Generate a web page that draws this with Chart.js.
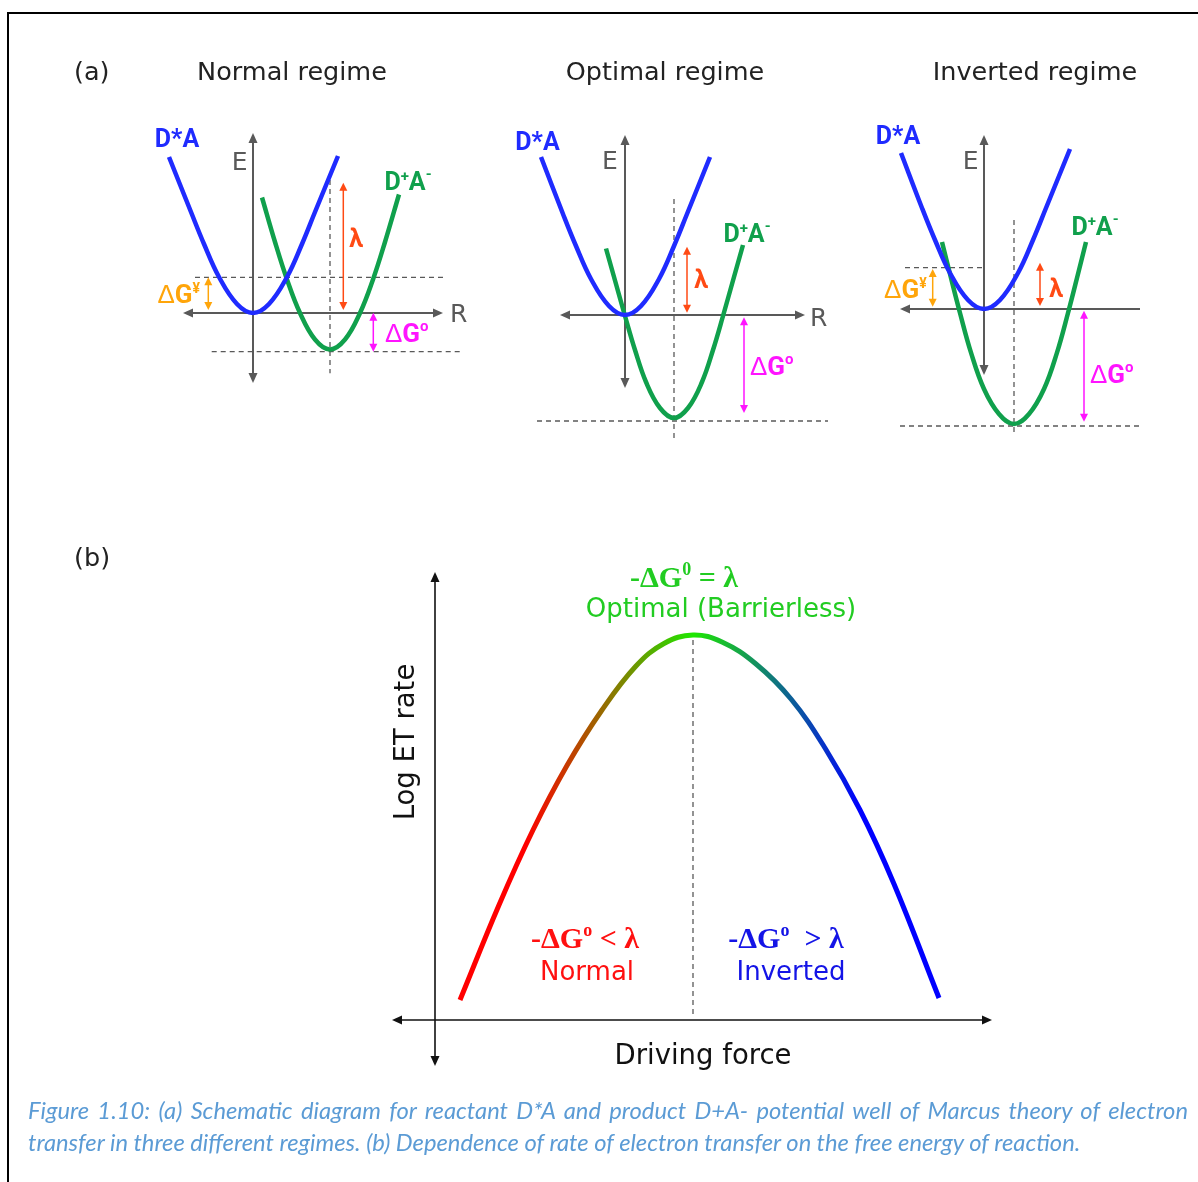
<!DOCTYPE html>
<html>
<head>
<meta charset="utf-8">
<title>Marcus theory of electron transfer</title>
<script src="https://cdn.jsdelivr.net/npm/chart.js@4/dist/chart.umd.min.js"></script>
<style>
  html, body { margin: 0; padding: 0; background: #fff; width: 1198px; height: 1182px; overflow: hidden; }
  #wrap { position: relative; width: 1198px; height: 1182px; }
  #frame { position: absolute; left: 7px; top: 12px; width: 1200px; height: 1180px;
           border-top: 2.5px solid #000; border-left: 2.5px solid #000; }
  #plot { position: absolute; left: 0; top: 0; width: 1198px; height: 1182px; }
  #caption { position: absolute; left: 28px; top: 1094px; width: 1160px; color: #5b9bd5;
             font-family: Lato, "Liberation Sans", sans-serif; font-style: italic; font-size: 20px; line-height: 32px; }
  #caption .first { text-align: justify; text-align-last: justify; }
</style>
</head>
<body>
<div id="wrap">
  <div id="frame"></div>
  <canvas id="plot" width="1198" height="1182"></canvas>
  <div id="caption">
    <div class="first" id="cap1"></div>
    <div id="cap2"></div>
  </div>
</div>
<script>
// ---------------------------------------------------------------
// Potential wells: reaction coordinate R against energy E
// (reactant D*A and product D+A- in each regime)
// ---------------------------------------------------------------
const normalReactantR  = [-8.4, -6.2, -4.9, -3.4, -1.6, 0, 1.6, 3.4, 4.9, 6.2, 8.5];
const normalReactantE  = [15.6, 10.1, 6.9, 3.6, 0.9, 0, 0.9, 3.6, 6.9, 10.1, 15.7];
const normalProductR   = [0.9, 2.2, 3.4, 4.7, 6.2, 7.7, 9.2, 10.7, 12.0, 13.2, 14.6];
const normalProductE   = [11.55, 7.1, 3.35, 0, -2.65, -3.65, -2.65, 0, 3.35, 7.1, 11.85];

const optimalReactantR = [-8.4, -6.2, -4.9, -3.4, -1.6, 0, 1.6, 3.4, 4.9, 6.2, 8.5];
const optimalReactantE = [15.8, 10.1, 6.9, 3.6, 0.9, 0, 0.9, 3.6, 6.9, 10.1, 15.8];
const optimalProductR  = [-1.9, -0.9, 0, 1.0, 2.1, 3.5, 4.9, 6.3, 7.7, 8.8, 9.8, 10.8, 11.8];
const optimalProductE  = [6.65, 3.1, -0.1, -3.5, -6.7, -9.3, -10.3, -9.3, -6.7, -3.5, -0.1, 3.45, 7.0];

const invertedReactantR = [-8.3, -6.2, -4.9, -3.4, -1.6, 0, 1.6, 3.4, 4.9, 6.2, 8.6];
const invertedReactantE = [15.6, 10.1, 6.9, 3.6, 0.9, 0, 0.9, 3.6, 6.9, 10.1, 16.0];
const invertedProductR  = [-4.2, -3.4, -2.4, -1.3, 0, 1.5, 3.0, 4.5, 6.0, 7.3, 8.4, 9.4, 10.2];
const invertedProductE  = [6.7, 3.5, -0.4, -4.36, -8.0, -10.5, -11.5, -10.5, -8.0, -4.36, -0.4, 3.5, 6.7];

// ---------------------------------------------------------------
// Rate of electron transfer against driving force (-dG0)
// ---------------------------------------------------------------
const drivingForce = [2.5, 6.4, 9.8, 13.2, 16.7, 20.1, 22.9, 25.8, 28.7, 32.1, 35.6, 39.0, 42.5, 45.9, 50.4];
const logRate      = [2.0, 11.5, 19.0, 25.45, 31.0, 35.4, 37.65, 38.5, 37.8, 35.6, 32.1, 27.2, 21.0, 13.6, 2.2];

// Text
const regimeTitles = ['Normal regime', 'Optimal regime', 'Inverted regime'];
const captionLines = [
  'Figure 1.10: (a) Schematic diagram for reactant D*A and product D+A- potential well of Marcus theory of electron',
  'transfer in three different regimes. (b) Dependence of rate of electron transfer on the free energy of reaction.'
];

// ---------------------------------------------------------------
// Layout and styles
// ---------------------------------------------------------------
const W = 1198, H = 1182;
// pixel position of each panel's origin, and pixels per unit
const frames = {
  N: { ox: 253, oy: 313, u: 10 },
  O: { ox: 625, oy: 315, u: 10 },
  I: { ox: 984, oy: 309, u: 10 },
  B: { ox: 435, oy: 1020, u: 10 }
};

const REACTANT = '#1f2bff', PRODUCT = '#10a04c', AXIS = '#595959';
const LAMBDA = '#ff4a14', BARRIER = '#ffa50a', DRIVE = '#ff14ff';
const RATE_RED = 'rgb(255,0,0)', RATE_GREEN = 'rgb(30,232,0)', RATE_BLUE = 'rgb(0,0,255)';

// guide lines, arrows and labels of each well panel, in panel units
const wellGuides = {
  N: {
    eAxis: [-7.0, 18.0], rAxis: [-7.0, 19.0], rArrowRight: true,
    eLabel: [-1.33, 14.3], rLabel: [19.7, -0.87],
    hDash: [[3.57, -5.8, 19.0], [-3.87, -4.13, 20.7]],
    vDash: [7.7, 13.3, -6.03],
    lambda: { r: 9.03, e: [13.03, 0.3], label: [10.3, 6.6] },
    barrier: { r: -4.47, e: [3.57, 0.3], label: [-5.3, 1.0] },
    drive: { r: 12.03, e: [0.03, -3.87], label: [13.2, -2.87] },
    reactantLabel: [-7.6, 16.65], productLabel: [15.5, 12.3]
  },
  O: {
    eAxis: [-7.3, 18.0], rAxis: [-6.5, 18.0], rArrowRight: true,
    eLabel: [-1.5, 14.6], rLabel: [18.5, -1.1],
    hDash: [[-10.6, -8.8, 20.3]],
    vDash: [4.9, 11.6, -12.5],
    lambda: { r: 6.2, e: [6.83, 0.23], label: [7.6, 2.7] },
    barrier: null,
    drive: { r: 11.9, e: [-0.23, -9.8], label: [12.5, -6.0] },
    reactantLabel: [-8.75, 16.5], productLabel: [12.2, 7.33]
  },
  I: {
    eAxis: [-6.6, 17.4], rAxis: [-8.4, 15.6], rArrowRight: false,
    eLabel: [-1.33, 13.97], rLabel: null,
    hDash: [[4.13, -7.9, 0], [-11.7, -8.4, 15.6]],
    vDash: [3.0, 8.9, -12.6],
    lambda: { r: 5.6, e: [4.63, 0.3], label: [7.2, 1.23] },
    barrier: { r: -5.13, e: [4.0, 0.23], label: [-5.73, 1.1] },
    drive: { r: 10.0, e: [-0.17, -11.27], label: [10.6, -7.4] },
    reactantLabel: [-8.6, 16.5], productLabel: [11.1, 7.4]
  }
};
const titleCenters = [292, 665, 1035];

function scalesFor(key) {
  const f = frames[key];
  const common = { type: 'linear', display: false, grace: 0, bounds: 'data' };
  return {
    ['x' + key]: Object.assign({ axis: 'x', min: -f.ox / f.u, max: (W - f.ox) / f.u }, common),
    ['y' + key]: Object.assign({ axis: 'y', min: -(H - f.oy) / f.u, max: f.oy / f.u }, common)
  };
}

function well(label, rs, es, color, key) {
  return {
    label,
    data: rs.map((r, i) => ({ x: r, y: es[i] })),
    xAxisID: 'x' + key, yAxisID: 'y' + key,
    borderColor: color, borderWidth: 4.5,
    pointRadius: 0, showLine: true, fill: false,
    tension: 0.4
  };
}

// horizontal colour ramp red -> green (at the maximum) -> blue
function rateGradient(context) {
  const chart = context.chart;
  if (!chart.chartArea) return RATE_GREEN;
  const xs = chart.scales.xB;
  const peak = drivingForce[logRate.indexOf(Math.max(...logRate))];
  const x0 = xs.getPixelForValue(9.0), x1 = xs.getPixelForValue(42.5);
  const xp = xs.getPixelForValue(peak);
  const g = chart.ctx.createLinearGradient(x0, 0, x1, 0);
  g.addColorStop(0, RATE_RED);
  g.addColorStop((xp - x0) / (x1 - x0), RATE_GREEN);
  g.addColorStop(1, RATE_BLUE);
  return g;
}

// ---------------------------------------------------------------
// Drawing helpers
// ---------------------------------------------------------------
function head(ctx, x, y, ang, len, hw, color) {
  ctx.save();
  ctx.translate(x, y);
  ctx.rotate(ang);
  ctx.beginPath();
  ctx.moveTo(0, 0);
  ctx.lineTo(-len, -hw);
  ctx.lineTo(-len, hw);
  ctx.closePath();
  ctx.fillStyle = color;
  ctx.fill();
  ctx.restore();
}

function seg(ctx, x1, y1, x2, y2, color, width, dash) {
  ctx.save();
  ctx.strokeStyle = color;
  ctx.lineWidth = width;
  ctx.setLineDash(dash || []);
  ctx.beginPath();
  ctx.moveTo(x1, y1);
  ctx.lineTo(x2, y2);
  ctx.stroke();
  ctx.restore();
}

// parts: [text, font, vertical offset]
function rich(ctx, parts, x, y, align, color) {
  let total = 0;
  parts.forEach(p => { ctx.font = p[1]; total += ctx.measureText(p[0]).width; });
  let cx = align === 'center' ? x - total / 2 : align === 'right' ? x - total : x;
  ctx.fillStyle = color;
  ctx.textAlign = 'left';
  ctx.textBaseline = 'alphabetic';
  parts.forEach(p => {
    ctx.font = p[1];
    ctx.fillText(p[0], cx, y + (p[2] || 0));
    cx += ctx.measureText(p[0]).width;
  });
}

function px(chart, key, r, e) {
  return [chart.scales['x' + key].getPixelForValue(r), chart.scales['y' + key].getPixelForValue(e)];
}

function vArrow(ctx, chart, key, a, color) {
  const [x, yTop] = px(chart, key, a.r, a.e[0]);
  const yBot = px(chart, key, a.r, a.e[1])[1];
  const len = 8, hw = 4;
  seg(ctx, x, yTop + len - 1, x, yBot - len + 1, color, 1.5);
  head(ctx, x, yTop, -Math.PI / 2, len, hw, color);
  head(ctx, x, yBot, Math.PI / 2, len, hw, color);
}

const BOLD = 'bold 25px Roboto, "Liberation Sans", sans-serif';
const SUP = 'bold 15px Roboto, "Liberation Sans", sans-serif';
const DELTA = '26px "Liberation Sans", sans-serif';
const GBOLD = 'bold 26px Roboto, "Liberation Sans", sans-serif';
const AXISFONT = '25px "DejaVu Sans", sans-serif';
const TITLEFONT = '25.5px "DejaVu Sans", sans-serif';
const SERIF = 'bold 30px "Liberation Serif", serif';
const SERIFSUP = 'bold 18px "Liberation Serif", serif';
const PLAIN = '26px "DejaVu Sans", sans-serif';

const schematic = {
  id: 'schematic',
  beforeDatasetsDraw(chart) {
    const ctx = chart.ctx;
    ctx.save();

    // panel titles
    ctx.fillStyle = '#222';
    ctx.font = TITLEFONT;
    ctx.textBaseline = 'alphabetic';
    ctx.textAlign = 'center';
    regimeTitles.forEach((t, i) => ctx.fillText(t, titleCenters[i], 80));
    ctx.textAlign = 'left';
    ctx.fillText('(a)', 74, 80);
    ctx.fillText('(b)', 74, 566);

    // well panels: dashed guides and axes
    Object.keys(wellGuides).forEach(key => {
      const g = wellGuides[key];
      g.hDash.forEach(d => {
        const [x1, y] = px(chart, key, d[1], d[0]);
        const x2 = px(chart, key, d[2], d[0])[0];
        seg(ctx, x1, y, x2, y, AXIS, 1.3, [5, 4]);
      });
      const [vx, vy1] = px(chart, key, g.vDash[0], g.vDash[1]);
      const vy2 = px(chart, key, g.vDash[0], g.vDash[2])[1];
      seg(ctx, vx, vy1, vx, vy2, AXIS, 1.3, [5, 4]);

      const len = 10, hw = 4.5;
      const [ex, eTop] = px(chart, key, 0, g.eAxis[1]);
      const eBot = px(chart, key, 0, g.eAxis[0])[1];
      seg(ctx, ex, eTop + len - 1, ex, eBot - len + 1, AXIS, 2);
      head(ctx, ex, eTop, -Math.PI / 2, len, hw, AXIS);
      head(ctx, ex, eBot, Math.PI / 2, len, hw, AXIS);

      const [rL, ry] = px(chart, key, g.rAxis[0], 0);
      const rR = px(chart, key, g.rAxis[1], 0)[0];
      seg(ctx, rL + len - 1, ry, g.rArrowRight ? rR - len + 1 : rR, ry, AXIS, 2);
      head(ctx, rL, ry, Math.PI, len, hw, AXIS);
      if (g.rArrowRight) head(ctx, rR, ry, 0, len, hw, AXIS);
    });

    // rate panel: dashed line at the maximum and the two axes
    const [dx, dTop] = px(chart, 'B', 25.8, 38.0);
    const dBot = px(chart, 'B', 25.8, 0.5)[1];
    seg(ctx, dx, dTop, dx, dBot, AXIS, 1.3, [5, 4]);
    const len = 10, hw = 4.5;
    const [ax, aTop] = px(chart, 'B', 0, 44.8);
    const aBot = px(chart, 'B', 0, -4.6)[1];
    seg(ctx, ax, aTop + len - 1, ax, aBot - len + 1, '#111', 1.6);
    head(ctx, ax, aTop, -Math.PI / 2, len, hw, '#111');
    head(ctx, ax, aBot, Math.PI / 2, len, hw, '#111');
    const [hL, hy] = px(chart, 'B', -4.3, 0);
    const hR = px(chart, 'B', 55.7, 0)[0];
    seg(ctx, hL + len - 1, hy, hR - len + 1, hy, '#111', 1.6);
    head(ctx, hL, hy, Math.PI, len, hw, '#111');
    head(ctx, hR, hy, 0, len, hw, '#111');

    ctx.restore();
  },
  afterDatasetsDraw(chart) {
    const ctx = chart.ctx;
    ctx.save();

    Object.keys(wellGuides).forEach(key => {
      const g = wellGuides[key];
      // axis names
      let p = px(chart, key, g.eLabel[0], g.eLabel[1]);
      rich(ctx, [['E', AXISFONT]], p[0], p[1], 'center', AXIS);
      if (g.rLabel) {
        p = px(chart, key, g.rLabel[0], g.rLabel[1]);
        rich(ctx, [['R', AXISFONT]], p[0], p[1], 'left', AXIS);
      }
      // state names
      p = px(chart, key, g.reactantLabel[0], g.reactantLabel[1]);
      rich(ctx, [['D*A', BOLD]], p[0], p[1], 'center', REACTANT);
      p = px(chart, key, g.productLabel[0], g.productLabel[1]);
      rich(ctx, [['D', BOLD], ['+', SUP, -9], ['A', BOLD], ['-', SUP, -11]], p[0], p[1], 'center', PRODUCT);

      // reorganisation energy
      vArrow(ctx, chart, key, g.lambda, LAMBDA);
      p = px(chart, key, g.lambda.label[0], g.lambda.label[1]);
      rich(ctx, [['λ', 'bold 25px Roboto, "DejaVu Sans", sans-serif']], p[0], p[1], 'center', LAMBDA);

      // activation barrier
      if (g.barrier) {
        vArrow(ctx, chart, key, g.barrier, BARRIER);
        p = px(chart, key, g.barrier.label[0], g.barrier.label[1]);
        rich(ctx, [['Δ', DELTA], ['G', GBOLD], ['¥', 'bold 14px Roboto, sans-serif', -10]], p[0], p[1], 'right', BARRIER);
      }

      // free energy of reaction
      vArrow(ctx, chart, key, g.drive, DRIVE);
      p = px(chart, key, g.drive.label[0], g.drive.label[1]);
      rich(ctx, [['Δ', DELTA], ['G', GBOLD], ['o', 'bold 15px Roboto, sans-serif', -11]], p[0], p[1], 'left', DRIVE);
    });

    // rate panel texts
    let p = px(chart, 'B', 24.9, 43.3);
    rich(ctx, [['-ΔG', SERIF], ['0', SERIFSUP, -12], [' = λ', SERIF]], p[0], p[1], 'center', '#22cc22');
    p = px(chart, 'B', 28.6, 40.3);
    rich(ctx, [['Optimal (Barrierless)', PLAIN]], p[0], p[1], 'center', '#22cc22');
    p = px(chart, 'B', 15.0, 7.2);
    rich(ctx, [['-ΔG', SERIF], ['o', SERIFSUP, -12], [' < λ', SERIF]], p[0], p[1], 'center', '#ff1010');
    p = px(chart, 'B', 15.2, 4.0);
    rich(ctx, [['Normal', PLAIN]], p[0], p[1], 'center', '#ff1010');
    p = px(chart, 'B', 35.1, 7.2);
    rich(ctx, [['-ΔG', SERIF], ['o', SERIFSUP, -12], ['  > λ', SERIF]], p[0], p[1], 'center', '#1414e6');
    p = px(chart, 'B', 35.6, 4.0);
    rich(ctx, [['Inverted', PLAIN]], p[0], p[1], 'center', '#1414e6');
    p = px(chart, 'B', 26.8, -4.4);
    rich(ctx, [['Driving force', '27.5px "DejaVu Sans", sans-serif']], p[0], p[1], 'center', '#111');

    p = px(chart, 'B', -2.1, 27.8);
    ctx.save();
    ctx.translate(p[0], p[1]);
    ctx.rotate(-Math.PI / 2);
    rich(ctx, [['Log ET rate', '27.5px "DejaVu Sans", sans-serif']], 0, 0, 'center', '#111');
    ctx.restore();

    ctx.restore();
  }
};

const scales = Object.assign({}, scalesFor('N'), scalesFor('O'), scalesFor('I'), scalesFor('B'));

new Chart(document.getElementById('plot'), {
  type: 'scatter',
  data: {
    datasets: [
      well('D*A', normalReactantR, normalReactantE, REACTANT, 'N'),
      well('D+A-', normalProductR, normalProductE, PRODUCT, 'N'),
      well('D*A', optimalReactantR, optimalReactantE, REACTANT, 'O'),
      well('D+A-', optimalProductR, optimalProductE, PRODUCT, 'O'),
      well('D*A', invertedReactantR, invertedReactantE, REACTANT, 'I'),
      well('D+A-', invertedProductR, invertedProductE, PRODUCT, 'I'),
      {
        label: 'Log ET rate',
        data: drivingForce.map((x, i) => ({ x, y: logRate[i] })),
        xAxisID: 'xB', yAxisID: 'yB',
        borderColor: rateGradient, borderWidth: 5,
        pointRadius: 0, showLine: true, fill: false,
        tension: 0.4
      }
    ]
  },
  options: {
    responsive: false,
    maintainAspectRatio: false,
    devicePixelRatio: 1,
    animation: false,
    events: [],
    layout: { padding: 0 },
    scales,
    plugins: { legend: { display: false }, tooltip: { enabled: false } }
  },
  plugins: [schematic]
});

// caption: second line sets the size, first line is justified
(function () {
  const c1 = document.getElementById('cap1'), c2 = document.getElementById('cap2');
  c1.textContent = captionLines[0];
  c2.textContent = captionLines[1];
  const m = document.createElement('canvas').getContext('2d');
  const fam = 'Lato, "Liberation Sans", sans-serif';
  m.font = 'italic 20px ' + fam;
  let fs = 20 * 1055 / m.measureText(captionLines[1]).width;
  m.font = 'italic ' + fs + 'px ' + fam;
  const w1 = m.measureText(captionLines[0]).width;
  if (w1 > 1150) fs *= 1150 / w1;
  document.getElementById('caption').style.fontSize = fs + 'px';
})();
</script>
</body>
</html>
